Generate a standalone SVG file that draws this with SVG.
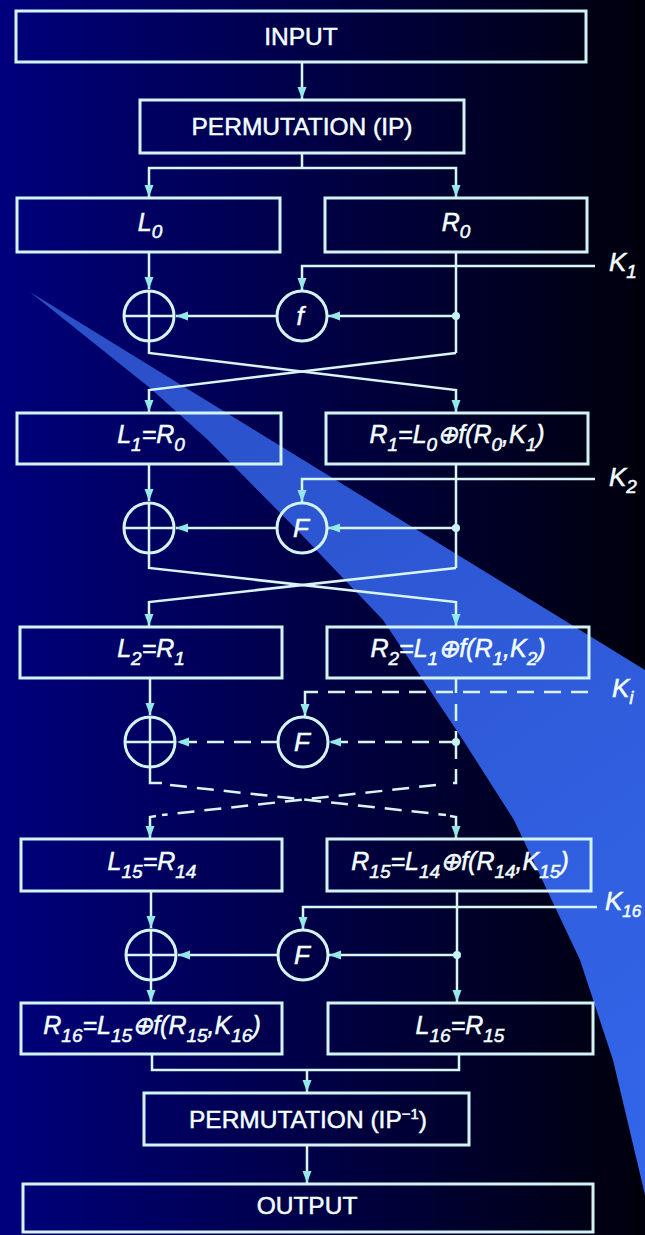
<svg xmlns="http://www.w3.org/2000/svg" width="645" height="1235" viewBox="0 0 645 1235">
<defs>
<linearGradient id="bg" x1="0" y1="0" x2="1" y2="0">
<stop offset="0" stop-color="#00007c"/>
<stop offset="0.45" stop-color="#00004a"/>
<stop offset="1" stop-color="#00000c"/>
</linearGradient>
<linearGradient id="wedge" gradientUnits="userSpaceOnUse" x1="30" y1="292" x2="645" y2="1200">
<stop offset="0" stop-color="#2a4ec6"/>
<stop offset="1" stop-color="#3366ea"/>
</linearGradient>
<marker id="ah" viewBox="0 0 12 10" refX="12" refY="5" markerWidth="12" markerHeight="10" markerUnits="userSpaceOnUse" orient="auto">
<path d="M0,0.5 L12,5 L0,9.5 Z" fill="#93e8e8"/>
</marker>
<style>
.box{fill:none;stroke:#d2f4f4;stroke-width:3}
.ln{fill:none;stroke:#d8f6f6;stroke-width:2.5}
.dash{stroke-dasharray:17 10}
.arr{marker-end:url(#ah)}
.op{fill:none;stroke:#d2f4f4;stroke-width:3}
.dot{fill:#c8f2f2}
.t{font-family:"Liberation Sans",Arial,sans-serif;fill:#f2ffff;stroke:#f2ffff;stroke-width:0.5;text-anchor:middle}
.lbl{font-size:24.5px}
.m{font-size:25px;font-style:italic}
.s{font-size:19px}
.c{font-size:26px;font-style:italic}
.k{font-family:"Liberation Sans",Arial,sans-serif;fill:#f2ffff;stroke:#f2ffff;stroke-width:0.5;font-style:italic;font-size:26px}
</style>
</defs>
<rect x="0" y="0" width="645" height="1235" fill="url(#bg)"/>
<polygon points="30,292 645,670 645,1195 613,1060 580,960 514,820 463,740 383,620 300,533 208,440 150,388" fill="url(#wedge)"/>

<g id="connectors">
<line class="ln arr" x1="302" y1="62" x2="302" y2="99"/>
<polyline class="ln" points="302,153 302,168"/>
<polyline class="ln arr" points="302,168 149,168 149,197"/>
<polyline class="ln arr" points="302,168 456,168 456,197"/>
<line class="ln arr" x1="149" y1="252" x2="149" y2="289"/>
<polyline class="ln arr" points="595,266 302,266 302,290"/>
<polyline class="ln" points="456,252 456,353"/>
<line class="ln arr" x1="456" y1="316" x2="328" y2="316"/>
<line class="ln arr" x1="277" y1="316" x2="176" y2="316"/>
<polyline class="ln arr" points="149,342 149,353 456,390 456,412"/>
<polyline class="ln arr" points="456,353 149,390 149,412"/>
<line class="ln arr" x1="149" y1="464" x2="149" y2="501"/>
<polyline class="ln arr" points="595,479 302,479 302,502"/>
<polyline class="ln" points="456,464 456,568"/>
<line class="ln arr" x1="456" y1="528" x2="328" y2="528"/>
<line class="ln arr" x1="277" y1="528" x2="176" y2="528"/>
<polyline class="ln arr" points="149,554 149,568 456,602 456,626"/>
<polyline class="ln arr" points="456,568 149,602 149,626"/>
<line class="ln arr" x1="150" y1="678" x2="150" y2="715"/>
<line class="ln dash" x1="588" y1="692" x2="316" y2="692"/>
<polyline class="ln arr" points="316,692 305,692 305,716"/>
<line class="ln" x1="456" y1="678" x2="456" y2="693"/>
<line class="ln dash" x1="456" y1="704" x2="456" y2="742"/>
<line class="ln dash arr" x1="456" y1="742" x2="329" y2="742"/>
<line class="ln dash arr" x1="278" y1="742" x2="177" y2="742"/>
<polyline class="ln dash" points="456,742 456,783 446,783"/>
<polyline class="ln" points="150,768 150,783 162,783"/>
<line class="ln dash" x1="170" y1="785" x2="446" y2="815"/>
<line class="ln dash" x1="436" y1="785" x2="162" y2="815"/>
<polyline class="ln arr" points="156,816 150,817 150,838"/>
<polyline class="ln arr" points="450,816 456,817 456,838"/>
<line class="ln arr" x1="151" y1="891" x2="151" y2="928"/>
<polyline class="ln arr" points="597,907 303,907 303,929"/>
<line class="ln arr" x1="457" y1="891" x2="457" y2="1002"/>
<line class="ln arr" x1="457" y1="955" x2="329" y2="955"/>
<line class="ln arr" x1="277" y1="955" x2="178" y2="955"/>
<line class="ln arr" x1="151" y1="981" x2="151" y2="1002"/>
<polyline class="ln" points="152,1054 152,1070 459,1070 459,1054"/>
<line class="ln arr" x1="307" y1="1070" x2="307" y2="1092"/>
<line class="ln arr" x1="307" y1="1145" x2="307" y2="1183"/>
<circle class="dot" cx="456" cy="316" r="4"/>
<circle class="dot" cx="456" cy="528" r="4"/>
<circle class="dot" cx="456" cy="742" r="4"/>
<circle class="dot" cx="457" cy="955" r="4"/>
</g>

<g id="input"><rect class="box" x="16" y="11" width="570" height="51"/><text class="t lbl" x="301" y="45">INPUT</text></g>
<g id="perm-ip"><rect class="box" x="140" y="100" width="324" height="53"/><text class="t lbl" x="302" y="135">PERMUTATION (IP)</text></g>

<g id="L0"><rect class="box" x="17" y="198" width="263" height="54"/><text class="t m" x="150" y="231">L<tspan class="s" dy="7">0</tspan></text></g>
<g id="R0"><rect class="box" x="325" y="198" width="262" height="54"/><text class="t m" x="456" y="231">R<tspan class="s" dy="7">0</tspan></text></g>
<g id="xor1"><circle class="op" cx="149" cy="316" r="25"/><path class="ln" d="M124,316 H174 M149,291 V341"/></g>
<g id="f1"><circle class="op" cx="302" cy="316" r="25"/><text class="t c" x="300" y="325">f</text></g>
<g id="K1"><text class="k" x="609" y="271">K<tspan class="s" dy="7">1</tspan></text></g>

<g id="L1"><rect class="box" x="17" y="413" width="264" height="51"/><text class="t m" x="151" y="443">L<tspan class="s" dy="8">1</tspan><tspan dy="-8">=R</tspan><tspan class="s" dy="8">0</tspan></text></g>
<g id="R1"><rect class="box" x="326" y="413" width="262" height="51"/><text class="t m" x="457" y="443">R<tspan class="s" dy="8">1</tspan><tspan dy="-8">=L</tspan><tspan class="s" dy="8">0</tspan><tspan dy="-8">⊕f(R</tspan><tspan class="s" dy="8">0</tspan><tspan dy="-8">,K</tspan><tspan class="s" dy="8">1</tspan><tspan dy="-8">)</tspan></text></g>
<g id="xor2"><circle class="op" cx="149" cy="528" r="25"/><path class="ln" d="M124,528 H174 M149,503 V553"/></g>
<g id="F2"><circle class="op" cx="302" cy="528" r="25"/><text class="t c" x="301" y="537">F</text></g>
<g id="K2"><text class="k" x="609" y="486">K<tspan class="s" dy="7">2</tspan></text></g>

<g id="L2"><rect class="box" x="20" y="627" width="262" height="51"/><text class="t m" x="151" y="657">L<tspan class="s" dy="8">2</tspan><tspan dy="-8">=R</tspan><tspan class="s" dy="8">1</tspan></text></g>
<g id="R2"><rect class="box" x="327" y="627" width="262" height="51"/><text class="t m" x="458" y="657">R<tspan class="s" dy="8">2</tspan><tspan dy="-8">=L</tspan><tspan class="s" dy="8">1</tspan><tspan dy="-8">⊕f(R</tspan><tspan class="s" dy="8">1</tspan><tspan dy="-8">,K</tspan><tspan class="s" dy="8">2</tspan><tspan dy="-8">)</tspan></text></g>
<g id="xor3"><circle class="op" cx="150" cy="742" r="25"/><path class="ln" d="M125,742 H175 M150,717 V767"/></g>
<g id="F3"><circle class="op" cx="303" cy="742" r="25"/><text class="t c" x="302" y="751">F</text></g>
<g id="Ki"><text class="k" x="612" y="697">K<tspan class="s" dy="7">i</tspan></text></g>

<g id="L15"><rect class="box" x="21" y="839" width="261" height="52"/><text class="t m" x="152" y="870">L<tspan class="s" dy="8">15</tspan><tspan dy="-8">=R</tspan><tspan class="s" dy="8">14</tspan></text></g>
<g id="R15"><rect class="box" x="327" y="839" width="264" height="52"/><text class="t m" x="460" y="870">R<tspan class="s" dy="8">15</tspan><tspan dy="-8">=L</tspan><tspan class="s" dy="8">14</tspan><tspan dy="-8">⊕f(R</tspan><tspan class="s" dy="8">14</tspan><tspan dy="-8">,K</tspan><tspan class="s" dy="8">15</tspan><tspan dy="-8">)</tspan></text></g>
<g id="xor16"><circle class="op" cx="151" cy="955" r="25"/><path class="ln" d="M126,955 H176 M151,930 V980"/></g>
<g id="F16"><circle class="op" cx="303" cy="955" r="25"/><text class="t c" x="302" y="964">F</text></g>
<g id="K16"><text class="k" x="605" y="910">K<tspan font-size="17px" dy="7">16</tspan></text></g>

<g id="R16"><rect class="box" x="21" y="1003" width="261" height="51"/><text class="t m" x="152" y="1034">R<tspan class="s" dy="8">16</tspan><tspan dy="-8">=L</tspan><tspan class="s" dy="8">15</tspan><tspan dy="-8">⊕f(R</tspan><tspan class="s" dy="8">15</tspan><tspan dy="-8">,K</tspan><tspan class="s" dy="8">16</tspan><tspan dy="-8">)</tspan></text></g>
<g id="L16"><rect class="box" x="328" y="1003" width="265" height="51"/><text class="t m" x="460" y="1034">L<tspan class="s" dy="8">16</tspan><tspan dy="-8">=R</tspan><tspan class="s" dy="8">15</tspan></text></g>

<g id="perm-ip-inv"><rect class="box" x="144" y="1093" width="325" height="52"/><text class="t lbl" x="308" y="1128">PERMUTATION (IP<tspan font-size="15" dy="-9">−1</tspan><tspan dy="9">)</tspan></text></g>
<g id="output"><rect class="box" x="23" y="1184" width="570" height="48"/><text class="t lbl" x="307" y="1214">OUTPUT</text></g>
</svg>
